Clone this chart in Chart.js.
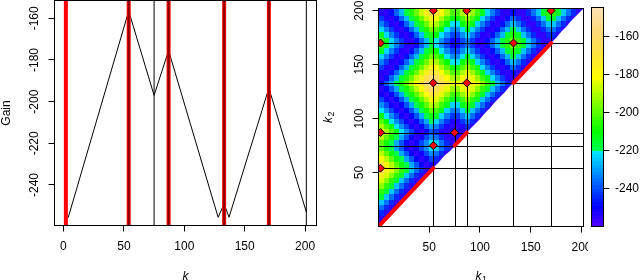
<!DOCTYPE html>
<html>
<head>
<meta charset="utf-8">
<script src="https://cdn.jsdelivr.net/npm/chart.js@4.4.1/dist/chart.umd.min.js"></script>
<style>
  html, body { margin: 0; padding: 0; background: #fff; }
  #wrap { position: relative; width: 640px; height: 280px; overflow: hidden; }
  canvas { position: absolute; top: 0; }
</style>
</head>
<body>
<div id="wrap">
  <canvas id="gainChart" width="320" height="280" style="left:0px"></canvas>
  <canvas id="heatChart" width="268" height="280" style="left:320px"></canvas>
  <canvas id="barChart" width="52" height="280" style="left:588px"></canvas>
</div>
<script>
// left panel: gain profile over k
const kProfile = [1, 4, 54, 75, 87, 128, 133, 137, 170, 201];
const gainProfile = [-255.5, -255.5, -156.5, -197, -175.5, -255.5, -249, -255.5, -193.5, -253];
const kTicks = [0, 50, 100, 150, 200];
const gainTicks = [-240, -220, -200, -180, -160];
const redK = [2, 54, 87, 133, 170];
const darkRedK = [54, 87, 133, 170];
const blackK = [75, 201];

// right panel: gain over (k1, k2), read on a 5-step grid, row = k2 bin, column = k1 bin
const kBins = [0, 5, 10, 15, 20, 25, 30, 35, 40, 45, 50, 55, 60, 65, 70, 75, 80, 85, 90, 95, 100,
  105, 110, 115, 120, 125, 130, 135, 140, 145, 150, 155, 160, 165, 170, 175, 180, 185, 190, 195, 201.5];
const gainGrid = [
  [-255],
  [-255,-255],
  [-245,-255,-255],
  [-235,-245,-255,-255],
  [-225,-235,-245,-255,-255],
  [-215,-225,-235,-245,-255,-255],
  [-205,-215,-225,-235,-245,-255,-255],
  [-195,-205,-215,-225,-235,-245,-255,-255],
  [-185,-195,-205,-215,-225,-235,-245,-255,-255],
  [-175,-185,-195,-205,-215,-225,-235,-245,-255,-255],
  [-165,-175,-185,-195,-205,-215,-225,-235,-245,-255,-255],
  [-169,-179,-189,-199,-209,-219,-229,-239,-249,-255,-251,-255],
  [-179,-189,-199,-209,-219,-229,-239,-249,-255,-251,-241,-245,-255],
  [-189,-199,-209,-219,-229,-239,-249,-255,-251,-241,-231,-235,-245,-255],
  [-199,-209,-219,-229,-239,-249,-255,-251,-241,-231,-221,-225,-235,-245,-255],
  [-199,-209,-219,-229,-239,-249,-255,-251,-241,-231,-221,-225,-235,-245,-255,-255],
  [-189,-199,-209,-219,-229,-239,-249,-255,-251,-241,-231,-235,-245,-255,-255,-255,-255],
  [-181,-191,-201,-211,-221,-231,-241,-251,-255,-249,-239,-243,-253,-255,-247,-247,-255,-255],
  [-191,-201,-211,-221,-231,-241,-251,-255,-249,-239,-229,-233,-243,-253,-255,-255,-253,-245,-255],
  [-201,-211,-221,-231,-241,-251,-255,-249,-239,-229,-219,-223,-233,-243,-253,-253,-243,-235,-245,-255],
  [-211,-221,-231,-241,-251,-255,-249,-239,-229,-219,-209,-213,-223,-233,-243,-243,-233,-225,-235,-245,-255],
  [-221,-231,-241,-251,-255,-249,-239,-229,-219,-209,-199,-203,-213,-223,-233,-233,-223,-215,-225,-235,-245,-255],
  [-231,-241,-251,-255,-249,-239,-229,-219,-209,-199,-189,-193,-203,-213,-223,-223,-213,-205,-215,-225,-235,-245,-255],
  [-241,-251,-255,-249,-239,-229,-219,-209,-199,-189,-179,-183,-193,-203,-213,-213,-203,-195,-205,-215,-225,-235,-245,-255],
  [-251,-255,-249,-239,-229,-219,-209,-199,-189,-179,-169,-173,-183,-193,-203,-203,-193,-185,-195,-205,-215,-225,-235,-245,-255],
  [-255,-249,-239,-229,-219,-209,-199,-189,-179,-169,-159,-163,-173,-183,-193,-193,-183,-175,-185,-195,-205,-215,-225,-235,-245,-255],
  [-249,-239,-229,-219,-209,-199,-189,-179,-169,-159,-149,-153,-163,-173,-183,-183,-173,-165,-175,-185,-195,-205,-215,-225,-235,-245,-255],
  [-255,-247,-237,-227,-217,-207,-197,-187,-177,-167,-157,-161,-171,-181,-191,-191,-181,-173,-183,-193,-203,-213,-223,-233,-243,-253,-255,-255],
  [-253,-255,-247,-237,-227,-217,-207,-197,-187,-177,-167,-171,-181,-191,-201,-201,-191,-183,-193,-203,-213,-223,-233,-243,-253,-255,-247,-255,-255],
  [-243,-253,-255,-247,-237,-227,-217,-207,-197,-187,-177,-181,-191,-201,-211,-211,-201,-193,-203,-213,-223,-233,-243,-253,-255,-247,-237,-245,-255,-255],
  [-233,-243,-253,-255,-247,-237,-227,-217,-207,-197,-187,-191,-201,-211,-221,-221,-211,-203,-213,-223,-233,-243,-253,-255,-247,-237,-227,-235,-245,-255,-255],
  [-223,-233,-243,-253,-255,-247,-237,-227,-217,-207,-197,-201,-211,-221,-231,-231,-221,-213,-223,-233,-243,-253,-255,-247,-237,-227,-217,-225,-235,-245,-255,-255],
  [-213,-223,-233,-243,-253,-255,-247,-237,-227,-217,-207,-211,-221,-231,-241,-241,-231,-223,-233,-243,-253,-255,-247,-237,-227,-217,-207,-215,-225,-235,-245,-255,-255],
  [-203,-213,-223,-233,-243,-253,-255,-247,-237,-227,-217,-221,-231,-241,-251,-251,-241,-233,-243,-253,-255,-247,-237,-227,-217,-207,-197,-205,-215,-225,-235,-245,-255,-255],
  [-203,-213,-223,-233,-243,-253,-255,-247,-237,-227,-217,-221,-231,-241,-251,-251,-241,-233,-243,-253,-255,-247,-237,-227,-217,-207,-197,-205,-215,-225,-235,-245,-255,-255,-255],
  [-213,-223,-233,-243,-253,-255,-247,-237,-227,-217,-207,-211,-221,-231,-241,-241,-231,-223,-233,-243,-253,-255,-247,-237,-227,-217,-207,-215,-225,-235,-245,-255,-255,-245,-245,-255],
  [-223,-233,-243,-253,-255,-247,-237,-227,-217,-207,-197,-201,-211,-221,-231,-231,-221,-213,-223,-233,-243,-253,-255,-247,-237,-227,-217,-225,-235,-245,-255,-255,-245,-235,-235,-245,-255],
  [-233,-243,-253,-255,-247,-237,-227,-217,-207,-197,-187,-191,-201,-211,-221,-221,-211,-203,-213,-223,-233,-243,-253,-255,-247,-237,-227,-235,-245,-255,-255,-245,-235,-225,-225,-235,-245,-255],
  [-243,-253,-255,-247,-237,-227,-217,-207,-197,-187,-177,-181,-191,-201,-211,-211,-201,-193,-203,-213,-223,-233,-243,-253,-255,-247,-237,-245,-255,-255,-245,-235,-225,-215,-215,-225,-235,-245,-255],
  [-253,-255,-247,-237,-227,-217,-207,-197,-187,-177,-167,-171,-181,-191,-201,-201,-191,-183,-193,-203,-213,-223,-233,-243,-253,-255,-247,-255,-255,-245,-235,-225,-215,-205,-205,-215,-225,-235,-245,-255]
];
const splitK = [54, 75, 87, 133, 170];
const redDiag = [[0, 54], [75, 87], [133, 170]];
const pairK1 = [2, 2, 2, 54, 54, 54, 75, 87, 87, 133, 170];
const pairK2 = [54, 87, 170, 75, 133, 200, 87, 133, 200, 170, 200];
const k12Ticks = [50, 100, 150, 200];
const zRange = [-259.5, -145];
const zTicks = [-240, -220, -200, -180, -160];

const FONT = "'Liberation Sans', Arial, Helvetica, sans-serif";
Chart.defaults.font.family = FONT;
Chart.defaults.font.size = 12;
Chart.defaults.color = '#000';
Chart.defaults.animation = false;

// R's topo.colors
function hsv(h, s, v) {
  const i = Math.floor(h * 6), f = h * 6 - i;
  const p = v * (1 - s), q = v * (1 - f * s), t = v * (1 - (1 - f) * s);
  let r, g, b;
  switch (i % 6) {
    case 0: r = v; g = t; b = p; break;
    case 1: r = q; g = v; b = p; break;
    case 2: r = p; g = v; b = t; break;
    case 3: r = p; g = q; b = v; break;
    case 4: r = t; g = p; b = v; break;
    default: r = v; g = p; b = q;
  }
  return `rgb(${Math.round(r * 255)},${Math.round(g * 255)},${Math.round(b * 255)})`;
}
function topoColors(n) {
  const j = Math.floor(n / 3), k = Math.floor(n / 3), i = n - j - k;
  const seq = (a, b, len) => Array.from({ length: len }, (_, m) => len === 1 ? a : a + (b - a) * m / (len - 1));
  const cols = [];
  seq(43 / 60, 31 / 60, i).forEach(h => cols.push(hsv(h, 1, 1)));
  seq(23 / 60, 11 / 60, j).forEach(h => cols.push(hsv(h, 1, 1)));
  const ss = seq(1, 0.3, k);
  seq(10 / 60, 6 / 60, k).forEach((h, m) => cols.push(hsv(h, ss[m], 1)));
  return cols;
}
const palette = topoColors(64);
function colorFor(v) {
  let idx = Math.floor((v - zRange[0]) / (zRange[1] - zRange[0]) * palette.length);
  idx = Math.max(0, Math.min(palette.length - 1, idx));
  return palette[idx];
}

function fixedBox(size) {
  return (scale) => {
    if (scale.isHorizontal()) scale.height = size; else scale.width = size;
    scale.paddingLeft = scale.paddingRight = scale.paddingTop = scale.paddingBottom = 0;
  };
}
function setTicks(values) {
  return (scale) => { scale.ticks = values.map(v => ({ value: v })); };
}
const tickGrid = { display: true, drawOnChartArea: false, drawTicks: true, tickLength: 6.5, color: '#000', lineWidth: 1 };

const framePlugin = {
  id: 'frame',
  afterDraw(chart) {
    const { ctx, chartArea: a } = chart;
    ctx.save();
    ctx.strokeStyle = '#000';
    ctx.lineWidth = 1;
    ctx.strokeRect(Math.round(a.left) - 0.5, Math.round(a.top) - 0.5,
      Math.round(a.right) - Math.round(a.left) + 1, Math.round(a.bottom) - Math.round(a.top) + 1);
    ctx.restore();
  }
};

function drawSubLabel(ctx, base, sub, x, y, angle) {
  ctx.save();
  ctx.translate(x, y);
  ctx.rotate(angle);
  ctx.fillStyle = '#000';
  ctx.textBaseline = 'alphabetic';
  ctx.textAlign = 'left';
  ctx.font = `italic 12px ${FONT}`;
  const wb = ctx.measureText(base).width;
  ctx.font = `9px ${FONT}`;
  const ws = ctx.measureText(sub).width;
  const x0 = -(wb + ws) / 2;
  ctx.font = `italic 12px ${FONT}`;
  ctx.fillText(base, x0, 0);
  ctx.font = `9px ${FONT}`;
  ctx.fillText(sub, x0 + wb + 0.5, 2);
  ctx.restore();
}

// ---------- left: gain profile ----------
const vlinePlugin = {
  id: 'vlines',
  afterDatasetsDraw(chart) {
    const { ctx, chartArea: a, scales: { x } } = chart;
    ctx.save();
    ctx.beginPath();
    ctx.rect(a.left, a.top, a.right - a.left, a.bottom - a.top);
    ctx.clip();
    const draw = (ks, color, width) => {
      ctx.strokeStyle = color;
      ctx.lineWidth = width;
      ks.forEach(k => {
        const px = x.getPixelForValue(k);
        ctx.beginPath();
        ctx.moveTo(px, a.top);
        ctx.lineTo(px, a.bottom);
        ctx.stroke();
      });
    };
    draw(redK, '#ff0000', 4);
    draw(darkRedK, '#8b0000', 2);
    draw(blackK, '#000000', 1);
    ctx.restore();
  }
};
const leftText = {
  id: 'leftText',
  afterDraw(chart) {
    const { ctx, chartArea: a } = chart;
    ctx.save();
    ctx.fillStyle = '#000';
    ctx.font = `12px ${FONT}`;
    ctx.textAlign = 'center';
    ctx.textBaseline = 'alphabetic';
    ctx.translate(9.5, (a.top + a.bottom) / 2);
    ctx.rotate(-Math.PI / 2);
    ctx.fillText('Gain', 0, 0);
    ctx.restore();
    ctx.save();
    ctx.fillStyle = '#000';
    ctx.font = `italic 12px ${FONT}`;
    ctx.textAlign = 'center';
    ctx.textBaseline = 'alphabetic';
    ctx.fillText('k', (a.left + a.right) / 2, 279.5);
    ctx.restore();
  }
};

new Chart(document.getElementById('gainChart'), {
  type: 'scatter',
  data: {
    datasets: [{
      data: kProfile.map((k, m) => ({ x: k, y: gainProfile[m] })),
      showLine: true,
      borderColor: '#000',
      borderWidth: 1,
      pointRadius: 0,
      tension: 0,
      clip: 0
    }]
  },
  options: {
    responsive: false,
    events: [],
    layout: { padding: { left: 0, top: 1, right: 4, bottom: 0 } },
    plugins: { legend: { display: false }, tooltip: { enabled: false } },
    scales: {
      x: {
        type: 'linear', min: -7, max: 209,
        grid: tickGrid, border: { display: false },
        ticks: { padding: 8, maxRotation: 0, autoSkip: false },
        afterBuildTicks: setTicks(kTicks),
        afterFit: fixedBox(55)
      },
      y: {
        type: 'linear', min: -259.2, max: -151.7,
        grid: tickGrid, border: { display: false },
        ticks: { padding: 1.8, minRotation: 90, maxRotation: 90, crossAlign: 'center', autoSkip: false },
        afterBuildTicks: setTicks(gainTicks),
        afterFit: fixedBox(55)
      }
    }
  },
  plugins: [vlinePlugin, framePlugin, leftText]
});

// ---------- right: gain surface ----------
const heatPlugin = {
  id: 'heat',
  beforeDatasetsDraw(chart) {
    const { ctx, chartArea: a, scales: { x, y } } = chart;
    ctx.save();
    ctx.beginPath();
    ctx.rect(a.left, a.top, a.right - a.left, a.bottom - a.top);
    ctx.clip();
    gainGrid.forEach((row, j) => {
      const y0 = Math.round(y.getPixelForValue(kBins[j]));
      const y1 = Math.round(y.getPixelForValue(kBins[j + 1]));
      row.forEach((v, i) => {
        const x0 = Math.round(x.getPixelForValue(kBins[i]));
        const x1 = Math.round(x.getPixelForValue(kBins[i + 1]));
        ctx.fillStyle = colorFor(v);
        if (i < j) {
          ctx.fillRect(x0, y1, x1 - x0, y0 - y1);
        } else {
          ctx.beginPath();
          ctx.moveTo(x0, y0);
          ctx.lineTo(x0, y1);
          ctx.lineTo(x1, y1);
          ctx.closePath();
          ctx.fill();
        }
      });
    });
    ctx.strokeStyle = '#000';
    ctx.lineWidth = 1;
    splitK.forEach(k => {
      const px = Math.round(x.getPixelForValue(k)) + 0.5;
      const py = Math.round(y.getPixelForValue(k)) + 0.5;
      ctx.beginPath();
      ctx.moveTo(px, a.top); ctx.lineTo(px, a.bottom);
      ctx.moveTo(a.left, py); ctx.lineTo(a.right, py);
      ctx.stroke();
    });
    ctx.restore();
  }
};
const rightText = {
  id: 'rightText',
  afterDraw(chart) {
    const { ctx, chartArea: a } = chart;
    drawSubLabel(ctx, 'k', '1', (a.left + a.right) / 2, 279.5, 0);
    drawSubLabel(ctx, 'k', '2', 12, (a.top + a.bottom) / 2, -Math.PI / 2);
  }
};

const diagSets = redDiag.map(([a, b]) => ({
  data: [{ x: a, y: a }, { x: b, y: b }],
  showLine: true,
  borderColor: '#ff0000',
  borderWidth: 4,
  borderCapStyle: 'round',
  pointRadius: 0,
  clip: 0
}));

new Chart(document.getElementById('heatChart'), {
  type: 'scatter',
  data: {
    datasets: [...diagSets, {
      data: pairK1.map((k, m) => ({ x: k, y: pairK2[m] })),
      pointStyle: 'rectRot',
      pointRadius: 4,
      pointBackgroundColor: '#ff0000',
      pointBorderColor: '#000',
      pointBorderWidth: 1,
      clip: 0
    }]
  },
  options: {
    responsive: false,
    events: [],
    layout: { padding: { left: 0, top: 9, right: 3, bottom: 0 } },
    plugins: { legend: { display: false }, tooltip: { enabled: false } },
    scales: {
      x: {
        type: 'linear', min: 0.5, max: 201.5,
        grid: tickGrid, border: { display: false },
        ticks: { padding: 8, maxRotation: 0, autoSkip: false },
        afterBuildTicks: setTicks(k12Ticks),
        afterFit: fixedBox(54)
      },
      y: {
        type: 'linear', min: 0.5, max: 201.5,
        grid: tickGrid, border: { display: false },
        ticks: { padding: 3.2, minRotation: 90, maxRotation: 90, crossAlign: 'center', autoSkip: false },
        afterBuildTicks: setTicks(k12Ticks),
        afterFit: fixedBox(59)
      }
    }
  },
  plugins: [heatPlugin, framePlugin, rightText]
});

// ---------- colour bar ----------
const barPlugin = {
  id: 'bar',
  beforeDatasetsDraw(chart) {
    const { ctx, chartArea: a, scales: { y } } = chart;
    const n = palette.length;
    ctx.save();
    palette.forEach((c, m) => {
      const v0 = zRange[0] + (zRange[1] - zRange[0]) * m / n;
      const v1 = zRange[0] + (zRange[1] - zRange[0]) * (m + 1) / n;
      const p0 = Math.round(y.getPixelForValue(v0));
      const p1 = Math.round(y.getPixelForValue(v1));
      ctx.fillStyle = c;
      ctx.fillRect(a.left, p1, a.right - a.left, p0 - p1);
    });
    ctx.restore();
  }
};

new Chart(document.getElementById('barChart'), {
  type: 'scatter',
  data: { datasets: [] },
  options: {
    responsive: false,
    events: [],
    layout: { padding: { left: 4, top: 8, right: 0, bottom: 54 } },
    plugins: { legend: { display: false }, tooltip: { enabled: false } },
    scales: {
      x: { type: 'linear', min: 0, max: 1, display: false },
      y: {
        type: 'linear', position: 'right', min: zRange[0], max: zRange[1],
        grid: tickGrid, border: { display: false },
        ticks: { padding: 5.5, autoSkip: false },
        afterBuildTicks: setTicks(zTicks),
        afterFit: fixedBox(37)
      }
    }
  },
  plugins: [barPlugin, framePlugin]
});
</script>
</body>
</html>
